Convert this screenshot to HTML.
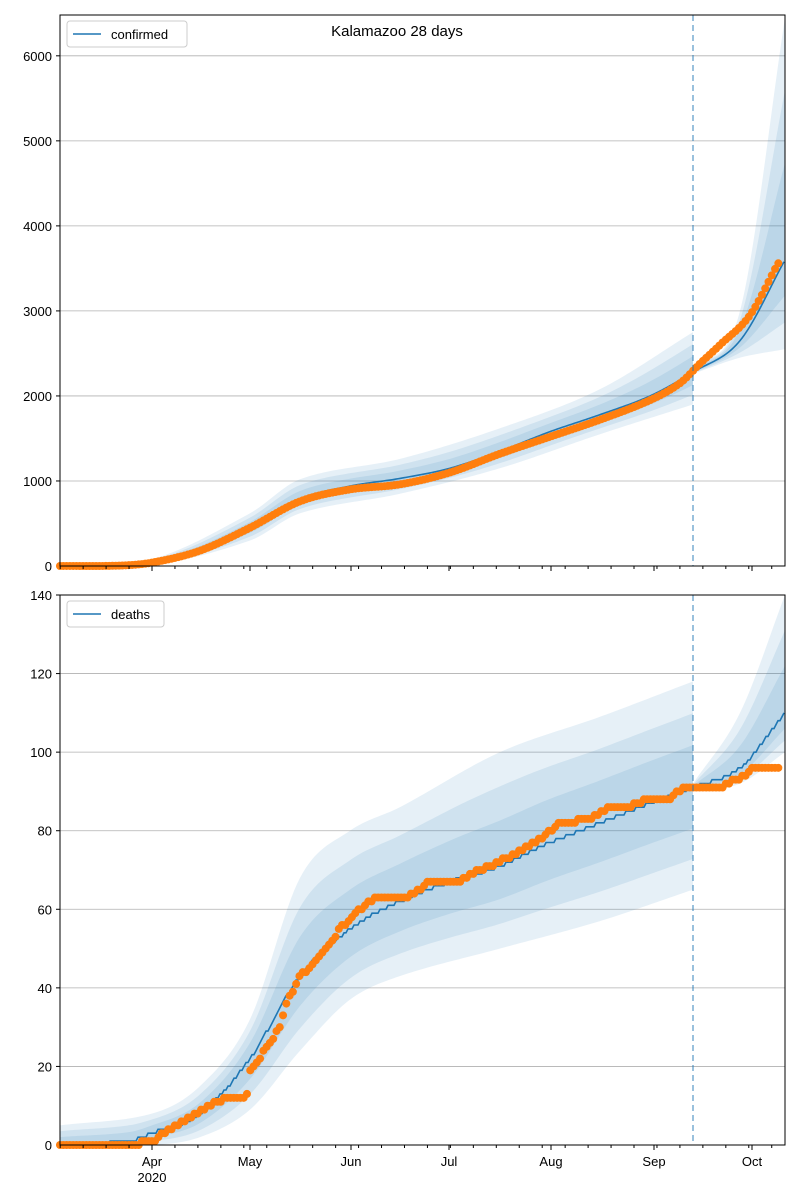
<!DOCTYPE html>
<html><head><meta charset="utf-8"><style>body{margin:0;background:#fff}svg{display:block;font-family:"Liberation Sans","DejaVu Sans",sans-serif}</style></head>
<body><svg id="s" width="800" height="1200" xmlns="http://www.w3.org/2000/svg"></svg>
<script>
const S=document.getElementById('s');let h='';
function interp(p,x){if(x<=p[0][0])return p[0][1];for(let i=1;i<p.length;i++){if(x<=p[i][0]){const a=p[i-1],b=p[i];const p0=i>1?p[i-2]:a,p3=i<p.length-1?p[i+1]:b;const t=(x-a[0])/(b[0]-a[0]);
const m1=(b[1]-p0[1])/(b[0]-p0[0])*(b[0]-a[0]),m2=(p3[1]-a[1])/(p3[0]-a[0])*(b[0]-a[0]);
const t2=t*t,t3=t2*t;return (2*t3-3*t2+1)*a[1]+(t3-2*t2+t)*m1+(-2*t3+3*t2)*b[1]+(t3-t2)*m2;}}return p[p.length-1][1];}
function lin(p,x){if(x<=p[0][0])return p[0][1];for(let i=1;i<p.length;i++){if(x<=p[i][0]){const a=p[i-1],b=p[i];return a[1]+(b[1]-a[1])*(x-a[0])/(b[0]-a[0]);}}return p[p.length-1][1];}
function panel(y0,y1,ymax,ticks,model,obs,up,lo,up2,lo2,label,stepModel){
  const Y=v=>y1-(v/ymax)*(y1-y0);
  for(const t of ticks){const yy=Y(t);if(t>0)h+=`<line x1="60" x2="785" y1="${yy}" y2="${yy}" stroke="#b0b0b0" stroke-width="0.8"/>`;h+=`<line x1="56" x2="60" y1="${yy}" y2="${yy}" stroke="#000"/><text x="52" y="${yy+5}" font-size="13" text-anchor="end">${t}</text>`;}
  function band(xs,u,l,m,f){let a=[],b=[];for(const x of xs){const mv=interp(m,x);a.push(`${x},${Y(mv+(interp(u,x)-mv)*f)}`);b.unshift(`${x},${Y(Math.max(0,mv-(mv-interp(l,x))*f))}`);}return `<polygon points="${a.join(' ')} ${b.join(' ')}" fill="#1f77b4" fill-opacity="0.11"/>`;}
  const xs1=[],xs2=[];for(let x=60;x<=693;x+=3)xs1.push(x);xs1.push(693);for(let x=693;x<=785;x+=2)xs2.push(x);xs2.push(785);
  for(const f of [1,0.7,0.4]){h+=band(xs1,up,lo,model,f);h+=band(xs2,up2,lo2,model,f);}
  let pts=[];for(let x=60;x<=785;x+=2){let v=interp(model,x);if(stepModel)v=Math.round(v);pts.push(`${x},${Y(v)}`);}
  h+=`<polyline points="${pts.join(' ')}" fill="none" stroke="#1f77b4" stroke-width="1.6"/>`;
  for(let x=60;x<=780;x+=3.28){let v=stepModel?lin(obs,x):interp(obs,x);if(stepModel)v=Math.round(v);h+=`<circle cx="${x}" cy="${Y(Math.max(0,v))}" r="4" fill="#ff7f0e"/>`;}
  h+=`<line x1="693" x2="693" y1="${y0}" y2="${y1}" stroke="#1f77b4" stroke-opacity="0.6" stroke-width="1.5" stroke-dasharray="6,4"/>`;
  h+=`<rect x="60" y="${y0}" width="725" height="${y1-y0}" fill="none" stroke="#000" stroke-width="1"/>`;
  const months=[[152,'Apr'],[250,'May'],[351,'Jun'],[449,'Jul'],[551,'Aug'],[654,'Sep'],[752,'Oct']];
  for(const [x] of months)h+=`<line x1="${x}" x2="${x}" y1="${y1}" y2="${y1+5}" stroke="#000"/>`;
  for(let x=152-3.279*28;x<=785;x+=3.279*7)h+=`<line x1="${x}" x2="${x}" y1="${y1}" y2="${y1+3}" stroke="#000"/>`;
  if(label==='deaths'){for(const [x,t] of months)h+=`<text x="${x}" y="${y1+21}" font-size="13" text-anchor="middle">${t}</text>`;h+=`<text x="152" y="${y1+37}" font-size="13" text-anchor="middle">2020</text>`;}
  const lw=label==='deaths'?97:120;
  h+=`<rect x="67" y="${y0+6}" width="${lw}" height="26" rx="3" fill="#fff" fill-opacity="0.8" stroke="#ccc"/><line x1="73" x2="101" y1="${y0+19}" y2="${y0+19}" stroke="#1f77b4" stroke-width="1.6"/><text x="111" y="${y0+24}" font-size="13">${label}</text>`;
}
panel(15,566,6480,[0,1000,2000,3000,4000,5000,6000],
 [[60,0],[120,5],[152,40],[200,190],[250,450],[300,790],[350,940],[400,1030],[450,1150],[500,1350],[550,1580],[600,1780],[650,2000],[693,2280],[740,2650],[785,3600]],
 [[60,0],[120,5],[152,40],[200,180],[250,450],[300,760],[350,900],[400,960],[450,1100],[500,1320],[550,1520],[600,1720],[650,1950],[680,2150],[700,2380],[720,2600],[750,2950],[778,3560]],
 [[60,0],[152,80],[250,620],[300,1020],[400,1260],[500,1620],[600,2080],[693,2750]],
 [[60,0],[152,10],[250,300],[300,620],[400,850],[500,1150],[600,1550],[693,1900]],
 [[693,2330],[740,3000],[785,6450]],[[693,2260],[740,2450],[785,2550]],'confirmed',false);
panel(595,1145,140,[0,20,40,60,80,100,120,140],
 [[60,0],[130,1],[152,3],[200,8],[250,22],[300,43],[350,55],[400,62],[450,67],[500,71],[550,77],[600,82],[650,87],[693,91],[740,96],[785,110]],
 [[60,0],[140,0.4],[142,1],[158,1.4],[162,3],[190,7],[210,10],[225,12],[245,12.4],[248,14],[250,19],[262,23],[280,30],[288,37],[300,43],[320,48],[340,55],[355,59],[375,63],[410,63.4],[430,67],[460,67.4],[480,70],[515,74],[540,78],[560,82],[590,83],[610,86],[630,86.4],[650,88],[670,88.4],[685,91],[725,91.4],[735,93],[745,94],[752,96],[780,96]],
 [[60,5],[152,8],[200,15],[250,32],[300,68],[350,80],[400,86],[500,100],[600,109],[693,118]],
 [[60,0],[152,0],[200,2],[250,9],[300,24],[350,37],[400,43],[500,50],[600,57],[693,65]],
 [[693,92],[740,110],[785,140]],[[693,90],[740,92],[785,100]],'deaths',true);
h+=`<text x="397" y="36" font-size="15" text-anchor="middle">Kalamazoo 28 days</text>`;
S.innerHTML=h;
</script></body></html>
